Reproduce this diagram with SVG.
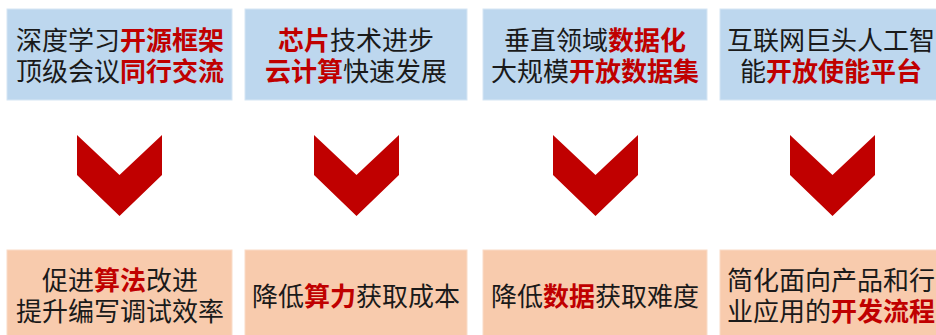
<svg xmlns="http://www.w3.org/2000/svg" width="936" height="335" viewBox="0 0 936 335">
<style>
.top{fill:#BDD7EE;stroke:#D6E6F4;stroke-width:1}
.bot{fill:#F8CBAD;stroke:#FADCC8;stroke-width:1}
text{font-family:"Noto Sans CJK SC","Noto Sans",sans-serif;font-size:26px;fill:#1a1a1a;text-anchor:middle}
.r{fill:#C00000;font-weight:bold}
.chev{fill:#C00000}
</style>
<rect width="936" height="335" fill="#ffffff"/>
<g id="top1"><rect class="top" x="7" y="9" width="225" height="91"/>
<text x="120" y="50">深度学习<tspan class="r">开源框架</tspan></text>
<text x="120" y="81">顶级会议<tspan class="r">同行交流</tspan></text></g>
<g id="top2"><rect class="top" x="245" y="9" width="222" height="91"/>
<text x="356" y="50"><tspan class="r">芯片</tspan>技术进步</text>
<text x="356" y="81"><tspan class="r">云计算</tspan>快速发展</text></g>
<g id="top3"><rect class="top" x="483" y="9" width="224" height="91"/>
<text x="595" y="50">垂直领域<tspan class="r">数据化</tspan></text>
<text x="595" y="81">大规模<tspan class="r">开放数据集</tspan></text></g>
<g id="top4"><rect class="top" x="720" y="9" width="224" height="91"/>
<text x="831" y="50">互联网巨头人工智</text>
<text x="831" y="81">能<tspan class="r">开放使能平台</tspan></text></g>
<g id="connectors">
<polygon class="chev" points="77,135 119.5,175 162,135 162,175 119.5,216 77,175"/>
<polygon class="chev" points="314,135 356.5,175 399,135 399,175 356.5,216 314,175"/>
<polygon class="chev" points="553,135 595.5,175 638,135 638,175 595.5,216 553,175"/>
<polygon class="chev" points="790,135 832.5,175 875,135 875,175 832.5,216 790,175"/>
</g>
<g id="bot1"><rect class="bot" x="7" y="250" width="225" height="90"/>
<text x="120" y="290">促进<tspan class="r">算法</tspan>改进</text>
<text x="120" y="321">提升编写调试效率</text></g>
<g id="bot2"><rect class="bot" x="245" y="250" width="222" height="90"/>
<text x="356" y="306">降低<tspan class="r">算力</tspan>获取成本</text></g>
<g id="bot3"><rect class="bot" x="483" y="250" width="224" height="90"/>
<text x="595" y="306">降低<tspan class="r">数据</tspan>获取难度</text></g>
<g id="bot4"><rect class="bot" x="720" y="250" width="224" height="90"/>
<text x="831" y="290">简化面向产品和行</text>
<text x="831" y="321">业应用的<tspan class="r">开发流程</tspan></text></g>
</svg>
